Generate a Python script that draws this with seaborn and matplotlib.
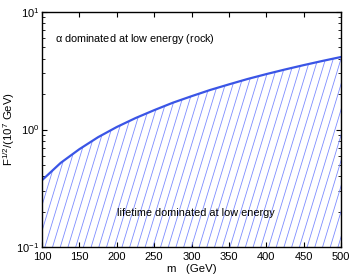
import numpy as np
import matplotlib
matplotlib.use("Agg")
import matplotlib.pyplot as plt
import seaborn as sns
import pandas as pd
from matplotlib.ticker import FixedLocator, LogLocator, NullFormatter

# values
m_vals = [100, 125, 150, 175, 200, 225, 250, 275, 300, 325, 350, 375, 400, 425, 450, 475, 500]
f_vals = [0.37, 0.52, 0.68, 0.86, 1.05, 1.25, 1.46, 1.69, 1.92, 2.17, 2.42, 2.69, 2.96,
          3.24, 3.53, 3.83, 4.14]
x_ticks = [100, 150, 200, 250, 300, 350, 400, 450, 500]
y_min, y_max = 0.1, 10

df = pd.DataFrame({'m': m_vals, 'F': f_vals})

sns.set_theme(style="ticks")
plt.rcParams['font.family'] = ['Liberation Sans', 'DejaVu Sans']
plt.rcParams.update({'font.size': 7.8, 'text.color': 'black',
                     'axes.labelcolor': 'black', 'xtick.color': 'black', 'ytick.color': 'black',
                     'mathtext.fontset': 'custom', 'mathtext.rm': 'Liberation Sans',
                     'mathtext.it': 'Liberation Sans:italic', 'mathtext.default': 'regular'})

fig = plt.figure(figsize=(3.53, 2.75), dpi=100)
ax = fig.add_axes([42 / 353, 1 - 247 / 275, 299 / 353, 235 / 275])

# shaded region under the curve (steep hatch lines clipped to it)
poly = ax.fill_between(df['m'], y_min, df['F'], facecolor='none', edgecolor='none')
for x0 in np.arange(-0.3, 1.05, 0.0258):
    ln, = ax.plot([x0, x0 + 0.238], [0, 1], transform=ax.transAxes,
                  color='#7d8cff', lw=0.6)
    ln.set_clip_path(poly.get_paths()[0], poly.get_transform())

sns.lineplot(data=df, x='m', y='F', ax=ax, color='#3a55e6', lw=1.6)

ax.set_yscale('log')
ax.set_xlim(100, 500)
ax.set_ylim(y_min, y_max)
ax.xaxis.set_major_locator(FixedLocator(x_ticks))
ax.yaxis.set_minor_locator(LogLocator(base=10, subs=np.arange(2, 10)))
ax.yaxis.set_minor_formatter(NullFormatter())
ax.tick_params(which='both', direction='in', top=True, right=True, labelsize=8, pad=2)
ax.tick_params(axis='x', which='major', pad=3.5)
ax.tick_params(which='major', length=3.5, width=0.8)
ax.tick_params(which='minor', length=2, width=0.6)
for s in ax.spines.values():
    s.set_linewidth(1.0)
    s.set_color('black')

ax.set_xlabel('m   (GeV)', fontsize=8.2)
ax.set_ylabel('F$^{1/2}$/(10$^7$ GeV)', fontsize=8.2)
ax.xaxis.set_label_coords(0.5, -0.072)
ax.yaxis.set_label_coords(-0.084, 0.5)

ax.text(118, 5.85, r'$\alpha$ dominated at low energy (rock)', fontsize=7.8, va='center')
ax.text(200, 0.196, 'lifetime dominated at low energy', fontsize=7.8, va='center')

fig.savefig('out.png', dpi=100)
